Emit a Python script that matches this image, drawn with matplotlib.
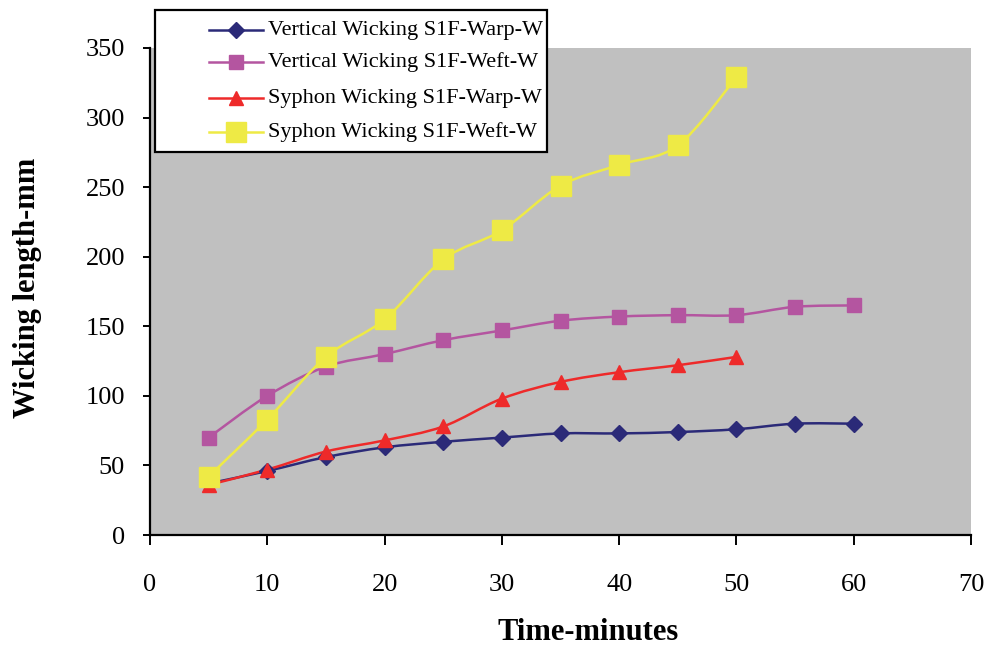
import numpy as np
import matplotlib
matplotlib.use("Agg")
import matplotlib.pyplot as plt
from matplotlib.path import Path
from matplotlib.patches import PathPatch, Rectangle
from matplotlib.lines import Line2D

plt.rcParams['font.family'] = ['Liberation Serif', 'DejaVu Serif']

time_min = [5, 10, 15, 20, 25, 30, 35, 40, 45, 50, 55, 60]
vert_warp = [37, 46, 56, 63, 67, 70, 73, 73, 74, 76, 80, 80]
vert_weft = [70, 100, 121, 130, 140, 147, 154, 157, 158, 158, 164, 165]
syph_warp = [36, 47, 60, 68, 78, 98, 110, 117, 122, 128]
syph_weft = [42, 83, 128, 155, 198, 219, 251, 266, 280, 329]

series_labels = [
    "Vertical Wicking S1F-Warp-W",
    "Vertical Wicking S1F-Weft-W",
    "Syphon Wicking S1F-Warp-W",
    "Syphon Wicking S1F-Weft-W",
]
series_values = [vert_warp, vert_weft, syph_warp, syph_weft]
styles = [
    dict(color="#2B2A78", marker="D", ms=8.5),
    dict(color="#B455A0", marker="s", ms=10),
    dict(color="#EE2A2A", marker="^", ms=10),
    dict(color="#EEEA45", marker="s", ms=14),
]
LW = 1.8

W, H = 989, 647


def smooth_path(xs, ys, tension=1 / 6):
    """Catmull-Rom style cubic Bezier path through the given points."""
    pts = np.column_stack([xs, ys]).astype(float)
    verts = [pts[0]]
    codes = [Path.MOVETO]
    n = len(pts)
    for i in range(n - 1):
        p0 = pts[i - 1] if i > 0 else pts[i]
        p1 = pts[i]
        p2 = pts[i + 1]
        p3 = pts[i + 2] if i + 2 < n else pts[i + 1]
        c1 = p1 + (p2 - p0) * tension
        c2 = p2 - (p3 - p1) * tension
        verts += [c1, c2, p2]
        codes += [Path.CURVE4] * 3
    return Path(verts, codes)


def fx(px):
    return px / W


def fy(py):
    return 1 - py / H


fig = plt.figure(figsize=(W / 100, H / 100), dpi=100)
ax = fig.add_axes([fx(150), fy(535), (971 - 150) / W, (535 - 48) / H])
ax.set_facecolor("#C0C0C0")

for ys, st in zip(series_values, styles):
    xs = time_min[:len(ys)]
    ax.add_patch(PathPatch(smooth_path(xs, ys), facecolor="none",
                           edgecolor=st["color"], lw=LW, zorder=2))
    ax.plot(xs, ys, linestyle="none", marker=st["marker"],
            markersize=st["ms"], color=st["color"],
            markeredgecolor=st["color"], zorder=3)

ax.set_xlim(0, 70)
ax.set_ylim(0, 350)
ax.set_xticks(range(0, 71, 10))
ax.set_yticks(range(0, 351, 50))
for s in ("top", "right"):
    ax.spines[s].set_visible(False)
for s in ("left", "bottom"):
    ax.spines[s].set_linewidth(1.6)
ax.tick_params(axis="both", direction="out", width=1.4,
               labelsize=19, colors="black")
ax.tick_params(axis="x", length=7, pad=21)
ax.tick_params(axis="y", length=5, pad=13)

ax.set_xlabel("Time-minutes", fontsize=22, fontweight="bold")
ax.set_ylabel("Wicking length-mm", fontsize=22, fontweight="bold")
ax.xaxis.label.set_va("center")
ax.yaxis.label.set_va("center")
ax.xaxis.set_label_coords((588 - 150) / 821, (535 - 633) / 487)
ax.yaxis.set_label_coords((28 - 150) / 821, (535 - 288) / 487)

# Legend box drawn in figure coordinates
fig.add_artist(Rectangle((fx(155), fy(152)), (547 - 155) / W, (152 - 10) / H,
                         transform=fig.transFigure, facecolor="white",
                         edgecolor="black", lw=1.6, zorder=10))
rows = [30, 62, 98, 132]
for label, st, ry in zip(series_labels, styles, rows):
    fig.add_artist(Line2D([fx(209), fx(263)], [fy(ry), fy(ry)],
                          transform=fig.transFigure, color=st["color"],
                          lw=LW, zorder=11))
    fig.add_artist(Line2D([fx(236)], [fy(ry)], transform=fig.transFigure,
                          linestyle="none", marker=st["marker"],
                          markersize=st["ms"], color=st["color"],
                          markeredgecolor=st["color"], zorder=12))
    fig.text(fx(268), fy(ry), label, fontsize=16, va="center", ha="left",
             zorder=13)

fig.savefig("out.png", dpi=100, facecolor="white")
